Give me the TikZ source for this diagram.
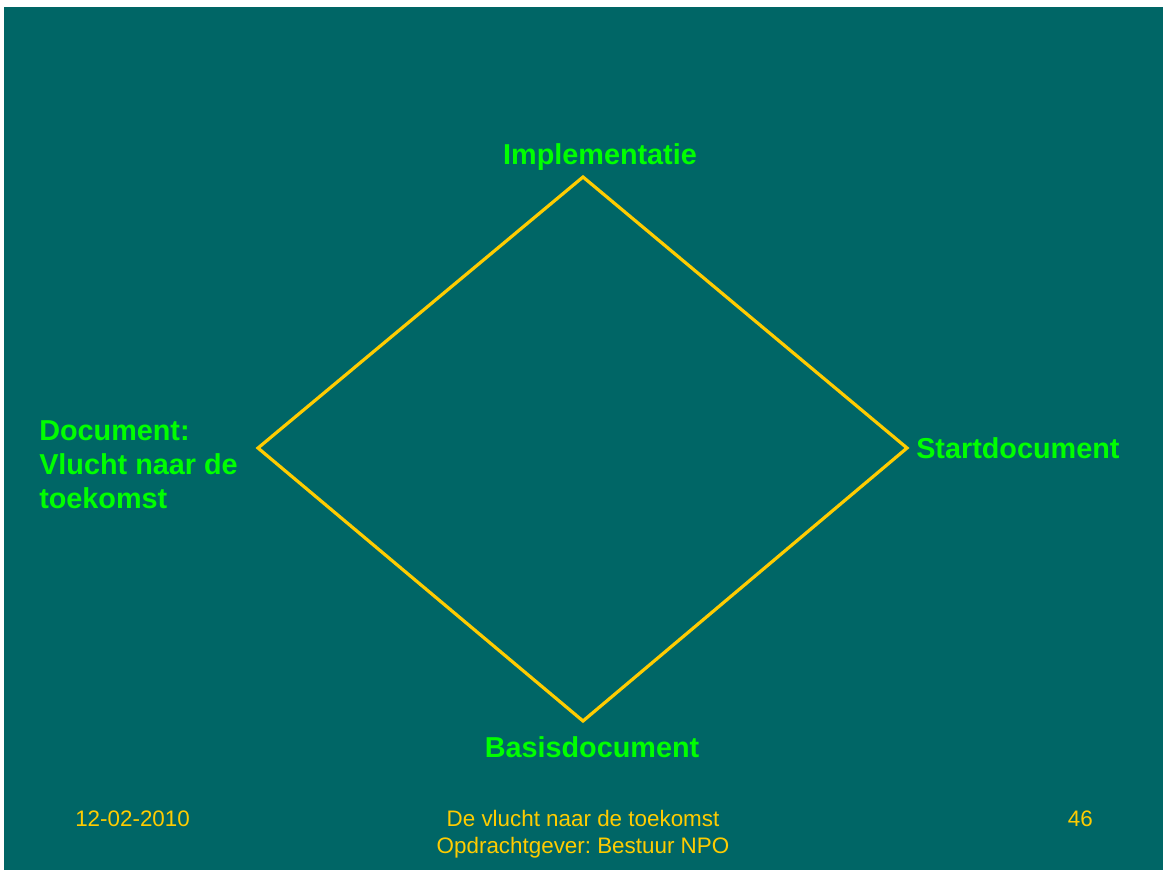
\documentclass[tikz,border=0pt]{standalone}
\usepackage{fontspec}
\setmainfont{Liberation Sans}
\frenchspacing
\definecolor{slidebg}{HTML}{006666}
\definecolor{labelgreen}{HTML}{00FF00}
\definecolor{lineyellow}{HTML}{FFCC00}
\begin{document}
\begin{tikzpicture}[x=0.75pt,y=-0.75pt,
  lbl/.style={inner sep=0pt,text=labelgreen,font=\fontsize{21.6}{25.5}\selectfont\bfseries},
  foot/.style={inner sep=0pt,text=lineyellow,font=\fontsize{16.8}{20.25}\selectfont},
  edge/.style={draw=lineyellow,line width=2.4pt,line join=miter}]
\useasboundingbox (0,0) rectangle (1163,870);
\fill[white] (0,0) rectangle (1163,870);
\fill[slidebg] (4,7) rectangle (1163,870);
% diamond corners
\coordinate (top) at (583,177);
\coordinate (right) at (907,448);
\coordinate (bottom) at (583,721);
\coordinate (left) at (258,448);
\draw[edge] (top) -- (right) -- (bottom) -- (left) -- cycle;
% labels
\node[lbl,anchor=base] (impl) at (600,165) {Implementatie};
\node[lbl,anchor=base west] (start) at (916,458) {Startdocument};
\node[lbl,anchor=base] (basis) at (592,757) {Basisdocument};
\node[lbl,anchor=base west] (doc1) at (39,440) {Document:};
\node[lbl,anchor=base west] (doc2) at (39,474) {Vlucht naar de};
\node[lbl,anchor=base west] (doc3) at (39,508) {toekomst};
% footer
\node[foot,anchor=base west] (date) at (75,826) {12-02-2010};
\node[foot,anchor=base] (title1) at (583,826) {De vlucht naar de toekomst};
\node[foot,anchor=base] (title2) at (583,853) {Opdrachtgever: Bestuur NPO};
\node[foot,anchor=base east] (page) at (1093,826) {46};
\end{tikzpicture}
\end{document}
